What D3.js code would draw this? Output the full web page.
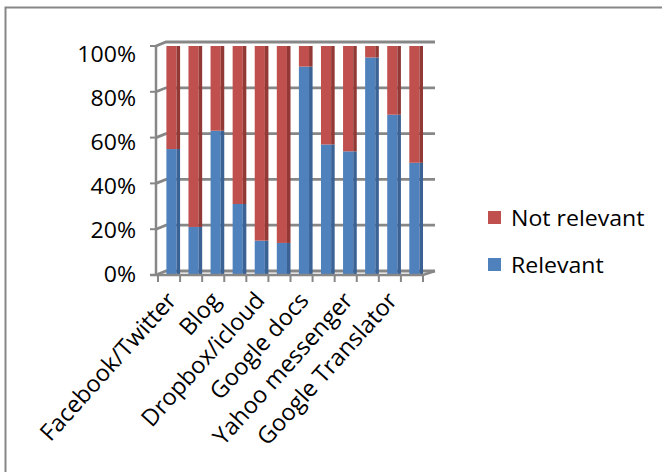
<!DOCTYPE html>
<html><head><meta charset="utf-8">
<script src="https://cdn.jsdelivr.net/npm/d3@7"></script>
<style>body{margin:0;background:#fff}svg{display:block}text{font-family:"Open Sans",sans-serif;fill:#000}</style>
</head><body><svg id="c" width="662" height="472"></svg>
<script>
// Category labels (only every other label is printed in the original chart)
const categories = ["Facebook/Twitter","","Blog","","Dropbox/icloud","","Google docs","","Yahoo messenger","","Google Translator",""];
const relevant    = [55,21,63,31,15,14,91,57,54,95,70,49];
const notRelevant = [45,79,37,69,85,86, 9,43,46, 5,30,51];
const yTicks = [0,0.2,0.4,0.6,0.8,1];
const seriesNames = ["Relevant","Not relevant"];
const colors = {"Relevant":"#4F81BD","Not relevant":"#C0504D"};
const sideColors = {"Relevant":"#3A6294","Not relevant":"#923936"};

const svg = d3.select("#c");
const grey = "#878787";

// outer chart border (top and left visible)
svg.append("path").attr("d","M5.5,472V7.5H662").attr("fill","none").attr("stroke",grey).attr("stroke-width",2);

const x = d3.scaleBand().domain(d3.range(categories.length)).range([158,423]);
const y = d3.scaleLinear().domain([0,1]).range([275,46]);
const yLab = d3.scaleLinear().domain([0,1]).range([274,54]);
const ox = 10, oy = -4, axisX = 156, wallRight = 435;

// gridlines (side wall + back wall)
svg.append("g").selectAll("path").data(yTicks).join("path")
  .attr("d", t => `M${axisX},${y(t)}L${axisX+ox},${y(t)+oy}H${wallRight}`)
  .attr("fill","none").attr("stroke",grey).attr("stroke-width",2.8);

// data stacked as percentages
const rows = categories.map((c,i)=>({i, "Relevant":relevant[i]/(relevant[i]+notRelevant[i]), "Not relevant":notRelevant[i]/(relevant[i]+notRelevant[i])}));
const stack = d3.stack().keys(seriesNames)(rows);
const bw = x.bandwidth();
const g = svg.append("g");
stack.forEach(s => {
  const key = s.key;
  g.selectAll(null).data(s).join("rect")
    .attr("x", d => x(d.data.i) + bw*0.38)
    .attr("y", d => y(d[1]))
    .attr("width", bw*0.46)
    .attr("height", d => y(d[0]) - y(d[1]))
    .attr("fill", colors[key]);
  g.selectAll(null).data(s).join("rect")
    .attr("x", d => x(d.data.i) + bw*0.84)
    .attr("y", d => y(d[1]))
    .attr("width", bw*0.16)
    .attr("height", d => y(d[0]) - y(d[1]))
    .attr("fill", sideColors[key]);
});

// vertical axis line + ticks
svg.append("path").attr("d",`M${axisX},${y(1)}V${y(0)}`).attr("stroke",grey).attr("stroke-width",2.5).attr("fill","none");
svg.append("g").selectAll("path").data(yTicks).join("path")
  .attr("d", t=>`M${axisX-6},${y(t)}H${axisX}`).attr("stroke",grey).attr("stroke-width",2);
// horizontal axis line + ticks
svg.append("path").attr("d",`M${axisX-6},${y(0)}H${x.range()[1]}L${wallRight},${y(0)+oy}`).attr("stroke",grey).attr("stroke-width",2.5).attr("fill","none");
svg.append("g").selectAll("path").data(d3.range(categories.length+1)).join("path")
  .attr("d", i=>`M${x.range()[0]+i*bw},${y(0)}V${y(0)+7}`).attr("stroke",grey).attr("stroke-width",2);

// y labels
svg.append("g").selectAll("text").data(yTicks).join("text")
  .attr("transform", t=>`translate(136,${yLab(t)}) scale(1.05,1)`)
  .attr("dy","0.36em")
  .attr("text-anchor","end").style("font-size","22px")
  .text(d3.format(".0%"));

// x labels
svg.append("g").selectAll("text").data(categories.map((c,i)=>({c,i})).filter(d=>d.c!==""))
  .join("text")
  .attr("transform", d=>`translate(${x(d.i)+bw/2-4},${290}) rotate(-48)`)
  .attr("text-anchor","end").attr("dy","0.72em").style("font-size","23.5px")
  .text(d=>d.c);

// legend
const legendOrder = ["Not relevant","Relevant"];
const lg = svg.append("g").selectAll("g").data(legendOrder).join("g")
  .attr("transform",(d,i)=>`translate(488,${211+i*47})`);
lg.append("rect").attr("width",13).attr("height",13).attr("fill",d=>colors[d]);
lg.append("text").attr("transform","translate(23,7) scale(1.05,1)").attr("dy","0.36em").style("font-size","22px").text(d=>d);
</script></body></html>
